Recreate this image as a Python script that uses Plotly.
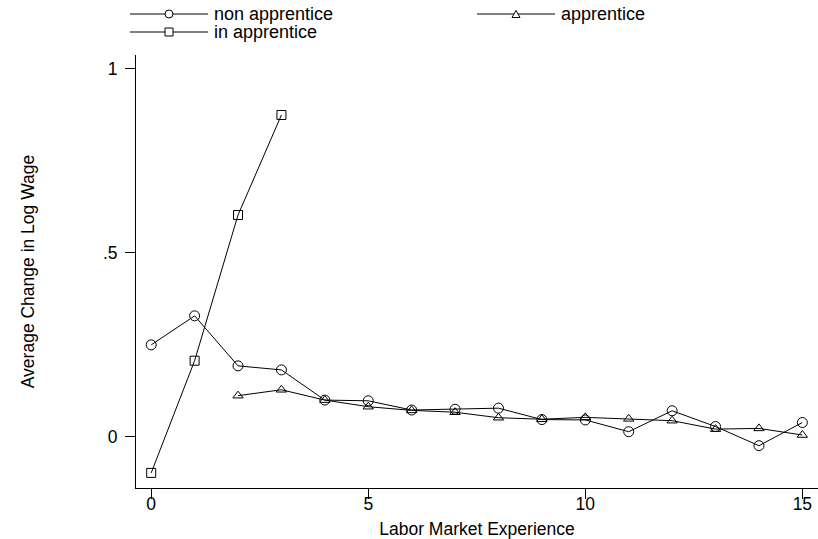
import plotly.graph_objects as go

# ---- data ----
experience = list(range(16))
non_apprentice = [0.250, 0.329, 0.193, 0.182, 0.100, 0.098, 0.073, 0.075,
                  0.078, 0.047, 0.046, 0.014, 0.071, 0.028, -0.024, 0.039]
apprentice_x = list(range(2, 16))
apprentice = [0.112, 0.128, 0.100, 0.082, 0.072, 0.067, 0.052, 0.048,
              0.053, 0.049, 0.044, 0.021, 0.023, 0.005]
in_apprentice_x = [0, 1, 2, 3]
in_apprentice = [-0.098, 0.207, 0.603, 0.875]

y_tick_vals = [0, 0.5, 1]
y_tick_text = ["0", ".5", "1"]
x_tick_vals = [0, 5, 10, 15]
x_tick_text = ["0", "5", "10", "15"]

series_names = ["non apprentice", "apprentice", "in apprentice"]

FONT = "Liberation Sans, Arial, Helvetica, sans-serif"
W, H = 818, 539
L, R, T, B = 136, 0, 55, 51

fig = go.Figure()
line_style = dict(color="black", width=1)

fig.add_trace(go.Scatter(x=experience, y=non_apprentice, mode="lines+markers",
                         name=series_names[0], line=line_style,
                         marker=dict(symbol="circle-open", size=10, color="black",
                                     line=dict(width=1, color="black"))))
fig.add_trace(go.Scatter(x=apprentice_x, y=apprentice, mode="lines+markers",
                         name=series_names[1], line=line_style,
                         marker=dict(symbol="triangle-up-open", size=9, color="black",
                                     line=dict(width=1, color="black"))))
fig.add_trace(go.Scatter(x=in_apprentice_x, y=in_apprentice, mode="lines+markers",
                         name=series_names[2], line=line_style,
                         marker=dict(symbol="square-open", size=9, color="black",
                                     line=dict(width=1, color="black"))))

# ---- manual legend (Stata-style long key lines) ----
pw, ph = W - L - R, H - T - B
def px_x(px):
    return (px - L) / pw
def px_y(py):
    return (H - B - py) / ph

legend_layout = [  # (series index, key start px, row y px, symbol)
    (0, 130, 14, "circle"),
    (1, 477, 14, "triangle"),
    (2, 130, 32, "square"),
]
key_len = 78
shapes = []
annotations = []
for idx, x0, yy, sym in legend_layout:
    xs, xe = px_x(x0), px_x(x0 + key_len)
    ym = px_y(yy)
    shapes.append(dict(type="line", xref="paper", yref="paper", x0=xs, x1=xe,
                       y0=ym, y1=ym, line=dict(color="black", width=1)))
    xc = px_x(x0 + key_len / 2)
    base = dict(xref="paper", yref="paper", xsizemode="pixel", ysizemode="pixel",
                xanchor=xc, yanchor=ym, line=dict(color="black", width=1),
                fillcolor="white")
    if sym == "circle":
        shapes.append(dict(type="circle", x0=-4, x1=4, y0=-4, y1=4, **base))
    elif sym == "square":
        shapes.append(dict(type="rect", x0=-4, x1=4, y0=-4, y1=4, **base))
    else:
        shapes.append(dict(type="path", path="M -4,-3.5 L 4,-3.5 L 0,3.5 Z", **base))
    annotations.append(dict(xref="paper", yref="paper", x=px_x(x0 + key_len + 5), y=ym,
                            xanchor="left", yanchor="middle", showarrow=False,
                            text=series_names[idx], borderpad=0,
                            font=dict(family=FONT, size=18, color="black")))

fig.update_layout(
    width=W, height=H,
    margin=dict(l=L, r=R, t=T, b=B, pad=0, autoexpand=False),
    paper_bgcolor="white", plot_bgcolor="white",
    showlegend=False,
    font=dict(family=FONT, size=17.5, color="black"),
    shapes=shapes, annotations=annotations,
    xaxis=dict(range=[-0.35, 15.36], tickvals=x_tick_vals, ticktext=x_tick_text,
               automargin=False,
               showgrid=False, zeroline=False, showline=True, linecolor="black",
               linewidth=1, ticks="outside", ticklen=10, tickcolor="black",
               ticklabelstandoff=-10,
               title=dict(text="Labor Market Experience", standoff=19,
                          font=dict(size=17.5))),
    yaxis=dict(range=[-0.139, 1.038], tickvals=y_tick_vals, ticktext=y_tick_text,
               automargin=False,
               showgrid=False, zeroline=False, showline=True, linecolor="black",
               linewidth=1, ticks="outside", ticklen=10, tickcolor="black",
               ticklabelstandoff=4,
               title=dict(text="Average Change in Log Wage", standoff=63,
                          font=dict(size=17.5))),
)

# remove the page's default body margin so the figure fills the window exactly
fig.write_html("out.html",
               config={"displayModeBar": False},
               post_script="document.body.style.margin='0';"
                           "document.body.style.overflow='hidden';")
